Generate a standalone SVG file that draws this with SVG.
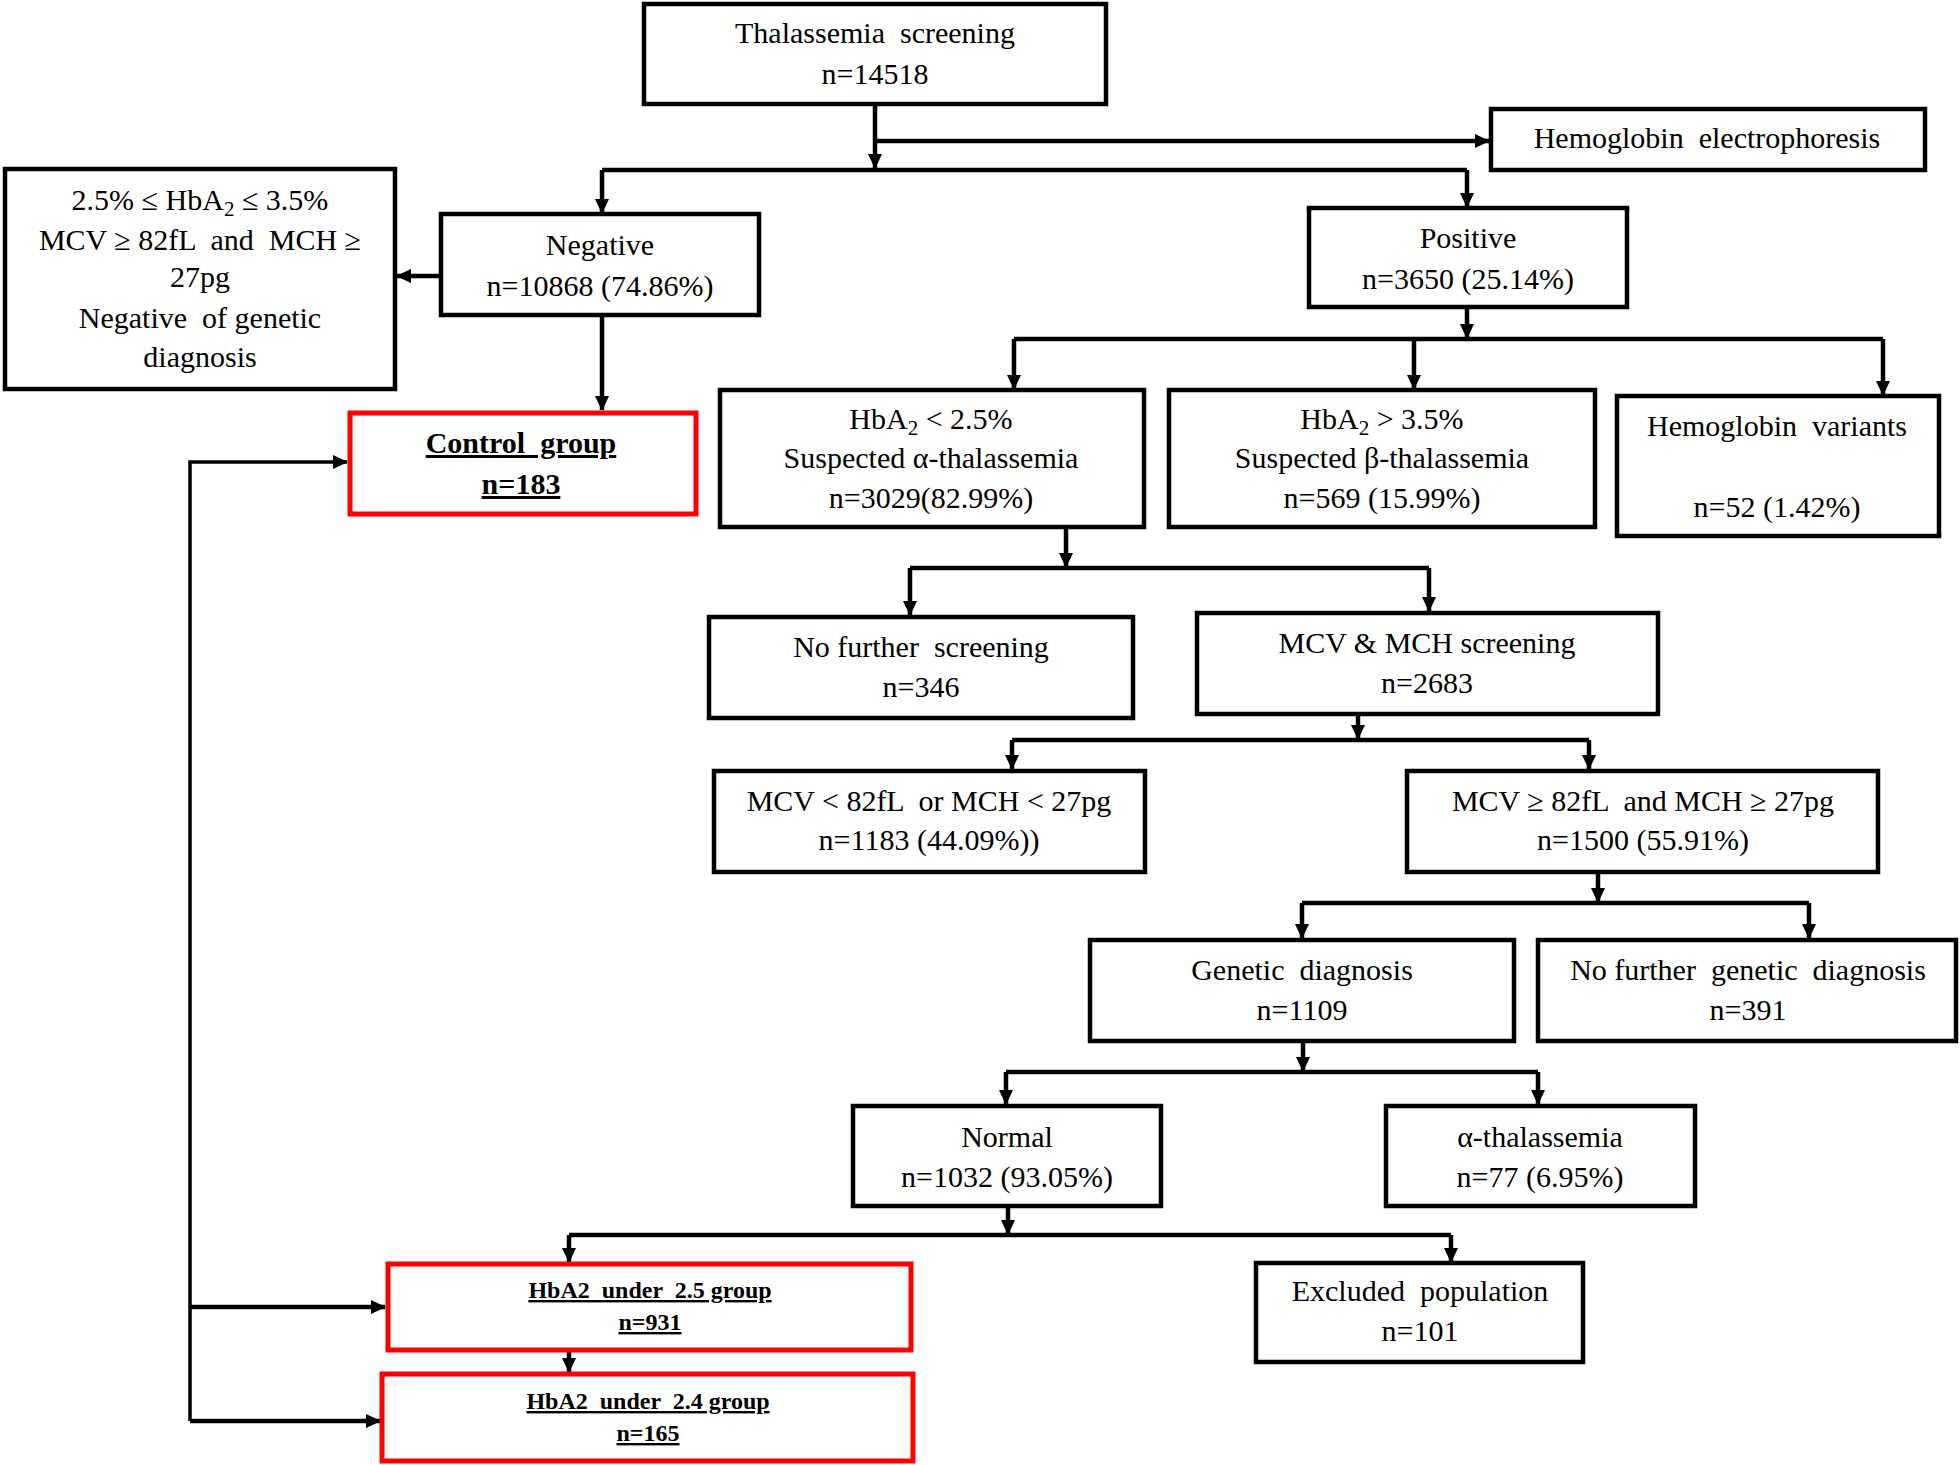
<svg xmlns="http://www.w3.org/2000/svg" width="1960" height="1465" viewBox="0 0 1960 1465" xml:space="preserve">
<defs>
<marker id="ah" markerUnits="userSpaceOnUse" markerWidth="15" markerHeight="14" refX="14" refY="7" orient="auto">
<path d="M0,0 L15,7 L0,14 z" fill="#000"/>
</marker>
<style>
.b{fill:#fff;stroke:#000;stroke-width:4.5}
.r{fill:#fff;stroke:#ff0000;stroke-width:5}
.t{font-family:"Liberation Serif","Times New Roman",serif;font-size:30px;fill:#000;text-anchor:middle;white-space:pre}
.tb{font-family:"Liberation Serif","Times New Roman",serif;font-size:30px;font-weight:bold;fill:#000;text-anchor:middle;text-decoration:underline;white-space:pre}
.ts{font-family:"Liberation Serif","Times New Roman",serif;font-size:24px;font-weight:bold;fill:#000;text-anchor:middle;text-decoration:underline;white-space:pre}
.c{fill:none;stroke:#000;stroke-width:4.5}
.cf{fill:none;stroke:#000;stroke-width:3.5}
</style>
</defs>
<rect width="1960" height="1465" fill="#fff"/>
<g id="connectors">
<path class="c" d="M875,104 V168" marker-end="url(#ah)"/>
<path class="c" d="M875,141 H1489" marker-end="url(#ah)"/>
<path class="c" d="M602,170 H1467"/>
<path class="c" d="M602,170 V213" marker-end="url(#ah)"/>
<path class="c" d="M1467,170 V207" marker-end="url(#ah)"/>
<path class="c" d="M440,276 H397" marker-end="url(#ah)"/>
<path class="c" d="M602,316 V410" marker-end="url(#ah)"/>
<path class="c" d="M1467,307 V338" marker-end="url(#ah)"/>
<path class="c" d="M1014,339 H1883"/>
<path class="c" d="M1014,339 V389" marker-end="url(#ah)"/>
<path class="c" d="M1414,339 V389" marker-end="url(#ah)"/>
<path class="c" d="M1883,339 V395" marker-end="url(#ah)"/>
<path class="c" d="M1066,528 V567" marker-end="url(#ah)"/>
<path class="c" d="M910,568 H1429"/>
<path class="c" d="M910,568 V615" marker-end="url(#ah)"/>
<path class="c" d="M1429,568 V611" marker-end="url(#ah)"/>
<path class="c" d="M1358,715 V739" marker-end="url(#ah)"/>
<path class="c" d="M1012,740 H1589"/>
<path class="c" d="M1012,740 V769" marker-end="url(#ah)"/>
<path class="c" d="M1589,740 V769" marker-end="url(#ah)"/>
<path class="c" d="M1598,872 V902" marker-end="url(#ah)"/>
<path class="c" d="M1302,903 H1809"/>
<path class="c" d="M1302,903 V938" marker-end="url(#ah)"/>
<path class="c" d="M1809,903 V938" marker-end="url(#ah)"/>
<path class="c" d="M1303,1041 V1071" marker-end="url(#ah)"/>
<path class="c" d="M1006,1072 H1538"/>
<path class="c" d="M1006,1072 V1104" marker-end="url(#ah)"/>
<path class="c" d="M1538,1072 V1104" marker-end="url(#ah)"/>
<path class="c" d="M1008,1207 V1234" marker-end="url(#ah)"/>
<path class="c" d="M569,1235 H1451"/>
<path class="c" d="M569,1235 V1262" marker-end="url(#ah)"/>
<path class="c" d="M1451,1235 V1262" marker-end="url(#ah)"/>
<path class="c" d="M569,1352 V1372" marker-end="url(#ah)"/>
<path class="cf" d="M190,1421 V462 H347" marker-end="url(#ah)"/>
<path class="c" d="M190,1307 H385" marker-end="url(#ah)"/>
<path class="c" d="M190,1421 H380" marker-end="url(#ah)"/>
</g>
<g id="screening">
<rect class="b" x="644" y="4" width="462" height="100"/>
<text class="t" x="875" y="43">Thalassemia  screening</text>
<text class="t" x="875" y="84">n=14518</text>
</g>
<g id="electrophoresis">
<rect class="b" x="1491" y="109" width="434" height="61"/>
<text class="t" x="1707" y="148">Hemoglobin  electrophoresis</text>
</g>
<g id="negative">
<rect class="b" x="441" y="214" width="318" height="101"/>
<text class="t" x="600" y="255">Negative</text>
<text class="t" x="600" y="296">n=10868 (74.86%)</text>
</g>
<g id="criteria">
<rect class="b" x="5" y="169" width="390" height="220"/>
<text class="t" x="200" y="210">2.5% ≤ HbA<tspan font-size="21" dy="6">2</tspan><tspan dy="-6"> ≤ 3.5%</tspan></text>
<text class="t" x="200" y="250">MCV ≥ 82fL  and  MCH ≥</text>
<text class="t" x="200" y="287">27pg</text>
<text class="t" x="200" y="328">Negative  of genetic</text>
<text class="t" x="200" y="367">diagnosis</text>
</g>
<g id="control">
<rect class="r" x="350" y="413" width="346" height="101"/>
<text class="tb" x="521" y="453">Control  group</text>
<text class="tb" x="521" y="494">n=183</text>
</g>
<g id="positive">
<rect class="b" x="1309" y="208" width="318" height="99"/>
<text class="t" x="1468" y="248">Positive</text>
<text class="t" x="1468" y="289">n=3650 (25.14%)</text>
</g>
<g id="alpha-suspected">
<rect class="b" x="720" y="390" width="424" height="137"/>
<text class="t" x="931" y="429">HbA<tspan font-size="21" dy="6">2</tspan><tspan dy="-6"> &lt; 2.5%</tspan></text>
<text class="t" x="931" y="468">Suspected α-thalassemia</text>
<text class="t" x="931" y="508">n=3029(82.99%)</text>
</g>
<g id="beta-suspected">
<rect class="b" x="1169" y="390" width="426" height="137"/>
<text class="t" x="1382" y="429">HbA<tspan font-size="21" dy="6">2</tspan><tspan dy="-6"> &gt; 3.5%</tspan></text>
<text class="t" x="1382" y="468">Suspected β-thalassemia</text>
<text class="t" x="1382" y="508">n=569 (15.99%)</text>
</g>
<g id="variants">
<rect class="b" x="1617" y="396" width="322" height="140"/>
<text class="t" x="1777" y="436">Hemoglobin  variants</text>
<text class="t" x="1777" y="517">n=52 (1.42%)</text>
</g>
<g id="no-further-screening">
<rect class="b" x="709" y="617" width="424" height="101"/>
<text class="t" x="921" y="657">No further  screening</text>
<text class="t" x="921" y="697">n=346</text>
</g>
<g id="mcv-mch-screening">
<rect class="b" x="1197" y="613" width="461" height="101"/>
<text class="t" x="1427" y="653">MCV &amp; MCH screening</text>
<text class="t" x="1427" y="693">n=2683</text>
</g>
<g id="mcv-low">
<rect class="b" x="714" y="771" width="431" height="101"/>
<text class="t" x="929" y="811">MCV &lt; 82fL  or MCH &lt; 27pg</text>
<text class="t" x="929" y="850">n=1183 (44.09%))</text>
</g>
<g id="mcv-normal">
<rect class="b" x="1407" y="771" width="471" height="101"/>
<text class="t" x="1643" y="811">MCV ≥ 82fL  and MCH ≥ 27pg</text>
<text class="t" x="1643" y="850">n=1500 (55.91%)</text>
</g>
<g id="genetic">
<rect class="b" x="1090" y="940" width="424" height="101"/>
<text class="t" x="1302" y="980">Genetic  diagnosis</text>
<text class="t" x="1302" y="1020">n=1109</text>
</g>
<g id="no-genetic">
<rect class="b" x="1538" y="940" width="418" height="101"/>
<text class="t" x="1748" y="980">No further  genetic  diagnosis</text>
<text class="t" x="1748" y="1020">n=391</text>
</g>
<g id="normal">
<rect class="b" x="853" y="1106" width="308" height="100"/>
<text class="t" x="1007" y="1147">Normal</text>
<text class="t" x="1007" y="1187">n=1032 (93.05%)</text>
</g>
<g id="alpha-thal">
<rect class="b" x="1386" y="1106" width="309" height="100"/>
<text class="t" x="1540" y="1147">α-thalassemia</text>
<text class="t" x="1540" y="1187">n=77 (6.95%)</text>
</g>
<g id="under25">
<rect class="r" x="388" y="1264" width="523" height="86"/>
<text class="ts" x="650" y="1298">HbA2  under  2.5 group</text>
<text class="ts" x="650" y="1330">n=931</text>
</g>
<g id="under24">
<rect class="r" x="382" y="1374" width="531" height="87"/>
<text class="ts" x="648" y="1409">HbA2  under  2.4 group</text>
<text class="ts" x="648" y="1441">n=165</text>
</g>
<g id="excluded">
<rect class="b" x="1256" y="1263" width="327" height="99"/>
<text class="t" x="1420" y="1301">Excluded  population</text>
<text class="t" x="1420" y="1341">n=101</text>
</g>
</svg>
